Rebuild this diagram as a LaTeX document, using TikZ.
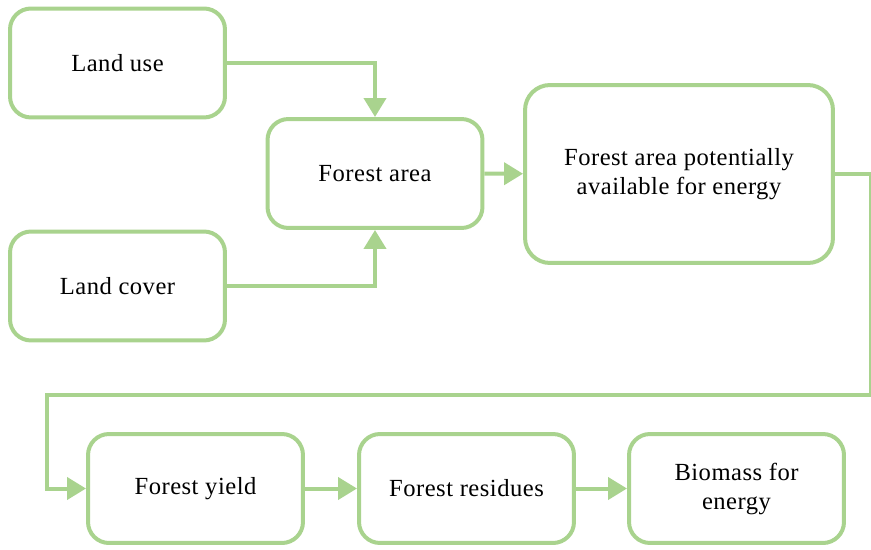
\documentclass[tikz,border=0pt]{standalone}
\usepackage{fontspec}
\setmainfont[LetterSpace=2]{Liberation Serif}
\usepackage{tikz}
\usetikzlibrary{calc}
\usetikzlibrary{arrows.meta}

\definecolor{leaf}{RGB}{169,211,142}

\begin{document}
\begin{tikzpicture}[x=0.02cm,y=-0.02cm,
    box/.style={draw=leaf, line width=0.08cm, rounded corners=0.42cm,
      align=center, minimum width=4.3cm, minimum height=2.18cm,
      font=\fontsize{14}{16.5}\selectfont},
    flow/.style={draw=leaf, line width=0.08cm,
      -{Triangle[length=0.38cm,width=0.44cm]}}]
  \useasboundingbox (0,0) rectangle (871,550);

  \node[box] (use) at (117.5,63) {Land use};
  \node[box] (cover) at (117.5,286) {Land cover};
  \node[box] (area) at (375,173.5) {Forest area};
  \node[box, minimum width=6.16cm, minimum height=3.56cm, rounded corners=0.5cm] (avail) at (679,174)
    {Forest area potentially \\ available for energy};

  \node[box] (yield) at (195.5,488.5) {Forest yield};
  \node[box] (resid) at (466.5,488.5) {Forest residues};
  \node[box] (bio) at (736.5,488.5) {Biomass for \\ energy};

  \coordinate (rgt) at (870.5,395);
  \coordinate (lft) at (47,395);

  \draw[flow] (use.east) -| (area.north);
  \draw[flow] (cover.east) -| (area.south);
  \draw[flow] (area) -- (avail);

  \draw[flow] (avail.east) -| (rgt) -- (lft) |- (yield.west);
  \draw[flow] (yield) -- (resid);
  \draw[flow] (resid) -- (bio);
\end{tikzpicture}
\end{document}
